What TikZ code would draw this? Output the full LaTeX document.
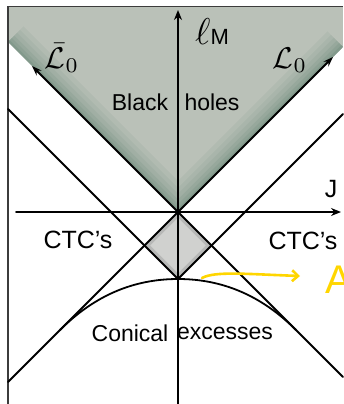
\documentclass[tikz,border=0pt]{standalone}
\usepackage{fontspec}
\usepackage{graphicx}
\setmainfont{Liberation Sans}
\usetikzlibrary{arrows.meta}
\definecolor{bhbase}{RGB}{186,193,184}
\definecolor{bhedge}{RGB}{70,112,92}
\definecolor{dmbase}{RGB}{208,209,207}
\definecolor{hiyel}{RGB}{255,214,0}
\definecolor{frame}{RGB}{60,60,60}
\begin{document}
\begin{tikzpicture}[x=1pt,y=-1pt,
  ln/.style={line width=1.8pt, black, line cap=round},
  axis/.style={ln, -{Stealth[length=10pt,width=8pt]}},
  conearr/.style={ln, -{Stealth[length=10pt,width=7pt]}},
  lbl/.style={inner sep=0pt, anchor=base, font=\fontsize{23}{26}\selectfont},
  biglbl/.style={inner sep=0pt, anchor=base, font=\fontsize{25}{28}\selectfont},
  mlbl/.style={inner sep=0pt, anchor=base, font=\fontsize{22}{26}\selectfont}]
\useasboundingbox (0,0) rectangle (343,404);
\fill[white] (0,0) rectangle (343,404);
% key points
\coordinate (O) at (178,212);
\coordinate (B) at (178,279);
\coordinate (DL) at (144.5,245.5);
\coordinate (DR) at (211.5,245.5);
\coordinate (TL) at (8,42);
\coordinate (TR) at (343,47);
\coordinate (L2a) at (8,109);
\coordinate (L2b) at (343,114);
\coordinate (L1a) at (8,382);
\coordinate (L1b) at (343,377);
\coordinate (tipL) at (32,66);
\coordinate (tipR) at (333,57);
\coordinate (T1) at (60,330);
\coordinate (T2) at (296,330);
\coordinate (xs) at (16,212);
\coordinate (xe) at (341,212);
\coordinate (ys) at (178,404);
\coordinate (ye) at (178,10);
% black hole region
\begin{scope}
  \clip (8,7) -- (343,7) -- (TR) -- (O) -- (TL) -- cycle;
  \fill[bhbase] (0,0) rectangle (343,404);
  \foreach \w/\o in {44/0.07, 34/0.07, 26/0.08, 18/0.1, 11/0.12, 5/0.15}
    \draw[bhedge, line width=\w pt, opacity=\o] (TL) -- (O) -- (TR);
\end{scope}
% CTC diamond
\begin{scope}
  \clip (O) -- (DR) -- (B) -- (DL) -- cycle;
  \fill[dmbase] (O) -- (DR) -- (B) -- (DL) -- cycle;
  \draw[gray, line width=8pt, opacity=0.3] (O) -- (DR) -- (B) -- (DL) -- cycle;
\end{scope}
% frame
\draw[frame, line width=1.3pt] (8,404) -- (8,6.5) -- (343,6.5);
% lines
\draw[conearr] (L1b) -- (tipL);
\draw[conearr] (L1a) -- (tipR);
\draw[ln] (L2a) -- (B) -- (L2b);
\draw[ln] (T1) .. controls (94,296) and (133,279) .. (B)
          .. controls (223,279) and (262,296) .. (T2);
% axes
\draw[axis] (xs) -- (xe);
\draw[axis] (ys) -- (ye);
% labels
\node[lbl] (bh1) at (140,110) {Black};
\node[lbl] (bh2) at (212,110) {holes};
\node[mlbl] (lm) at (212,45) {\scalebox{1.8}{$\ell$}M};
\node[inner sep=0pt] (Lb) at (62,58) {\scalebox{3.0}{$\bar{\mathcal{L}}_0$}};
\node[inner sep=0pt] (Lz) at (290,60) {\scalebox{3.0}{$\mathcal{L}_0$}};
\node[biglbl] (J) at (331,197) {J};
\node[biglbl] (ctc1) at (78,248) {CTC's};
\node[biglbl] (ctc2) at (303,249) {CTC's};
\node[lbl] (con) at (130,341) {Conical};
\node[lbl] (exc) at (225,339) {excesses};
\node[inner sep=0pt, text=hiyel, font=\fontsize{40}{44}\selectfont] (A) at (339,280) {A};
\coordinate (ya) at (202,278);
\coordinate (yb) at (300,276);
\draw[hiyel, line width=2.6pt, line cap=round, -{Straight Barb[length=6pt,width=11pt]}]
  (ya) .. controls (215,271) and (245,274) .. (yb);
\end{tikzpicture}
\end{document}
